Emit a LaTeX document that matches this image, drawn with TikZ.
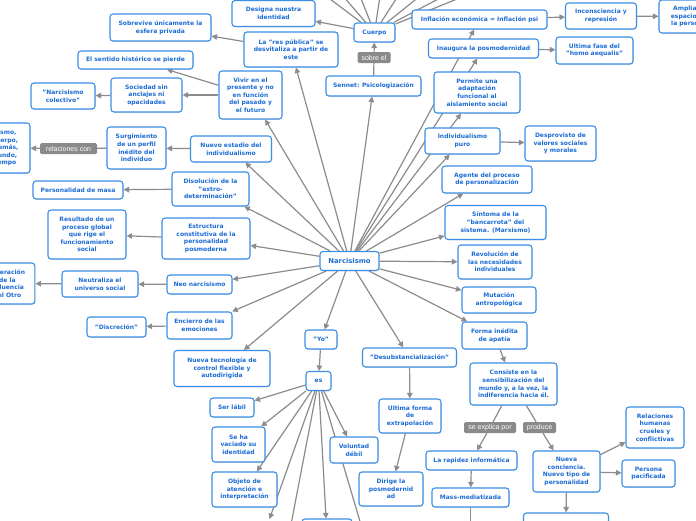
\documentclass[tikz,border=0pt]{standalone}
\usepackage{fontspec}
\setmainfont{DejaVu Sans}
\newfontfamily\labfont{Liberation Sans}
\usetikzlibrary{arrows.meta,shadows}
\pgfdeclarelayer{bg}
\pgfsetlayers{bg,main}
\definecolor{bcol}{RGB}{58,142,230}
\definecolor{tcol}{RGB}{28,108,214}
\definecolor{lcol}{RGB}{140,140,140}
\definecolor{gcol}{RGB}{138,138,138}
\tikzset{
 box/.style={draw=bcol, line width=1.1pt, rounded corners=3pt, fill=white, text=tcol, align=center, inner sep=1pt,
   font=\fontsize{6}{7.6}\selectfont\bfseries,
   drop shadow={shadow xshift=0.5pt, shadow yshift=-0.8pt, opacity=0.22}},
 lab/.style={fill=gcol, text=white, rounded corners=1.5pt, inner sep=1pt, font=\labfont\fontsize{7}{8}\selectfont},
 conn/.style={draw=lcol, line width=1.2pt},
 arr/.style={conn, -{Triangle[width=5.5pt,length=5.5pt]}},
}
\begin{document}
\begin{tikzpicture}[x=1pt,y=-1pt]
\useasboundingbox (0,0) rectangle (696,520);
\clip (0,0) rectangle (696,520);
% nodes
\node[box, minimum width=59pt, minimum height=19pt, font=\fontsize{6.8}{8}\selectfont\bfseries] (narc) at (349.5,261) {Narcisismo};
\node[box, minimum width=41pt, minimum height=19pt] (cuerpo) at (374.5,32.5) {Cuerpo};
\node[lab, minimum width=33pt, minimum height=11pt] (sobre) at (374,57.5) {sobre el};
\node[box, minimum width=95pt, minimum height=20pt] (sennet) at (373.5,86) {Sennet: Psicologización};
\node[box, minimum width=83pt, minimum height=26pt] (designa) at (273.5,13.5) {Designa nuestra\\identidad};
\node[box, minimum width=94pt, minimum height=35pt] (respub) at (291,49.5) {La "res pública" se\\desvitaliza a partir de\\este};
\node[box, minimum width=101pt, minimum height=27pt] (sobrev) at (160.5,27.5) {Sobrevive únicamente la\\esfera privada};
\node[box, minimum width=115pt, minimum height=18pt] (sentido) at (135.5,60) {El sentido histórico se pierde};
\node[box, minimum width=63pt, minimum height=48pt] (vivir) at (250.5,95) {Vivir en el\\presente y no\\en función\\del pasado y\\el futuro};
\node[box, minimum width=71pt, minimum height=34pt] (sociedad) at (146.5,95) {Sociedad sin\\anclajes ni\\opacidades};
\node[box, minimum width=64pt, minimum height=26pt] (narcol) at (63,96) {"Narcisismo\\colectivo"};
\node[box, minimum width=59pt, minimum height=42pt] (surg) at (136.5,148) {Surgimiento\\de un perfil\\inédito del\\individuo};
\node[lab, minimum width=57pt, minimum height=11pt] (relcon) at (68.5,148.5) {relaciones con};
\node[box, minimum width=59.4pt, minimum height=50pt] (part1) at (0.3,148) {sí mismo,\\su cuerpo,\\los demás,\\el mundo,\\el tiempo};
\node[box, minimum width=81pt, minimum height=26pt] (nuevoest) at (231,149) {Nuevo estadio del\\individualismo};
\node[box, minimum width=90pt, minimum height=18pt] (persmasa) at (78,190) {Personalidad de masa};
\node[box, minimum width=77pt, minimum height=34pt] (disol) at (210.5,189) {Disolución de la\\"extro-\\determinación"};
\node[box, minimum width=78pt, minimum height=49pt] (result) at (87,234.5) {Resultado de un\\proceso global\\que rige el\\funcionamiento\\social};
\node[box, minimum width=88pt, minimum height=41pt] (estruct) at (206,238.5) {Estructura\\constitutiva de la\\personalidad\\posmoderna};
\node[box, minimum width=65pt, minimum height=19pt] (neo) at (199.5,284.5) {Neo narcisismo};
\node[box, minimum width=76pt, minimum height=26pt] (neutr) at (100,284) {Neutraliza el\\universo social};
\node[box, minimum width=55pt, minimum height=41pt] (part2) at (7.4,283.5) {Liberación\\de la\\influencia\\del Otro};
\node[box, minimum width=65pt, minimum height=27pt] (encierro) at (199.5,325.5) {Encierro de las\\emociones};
\node[box, minimum width=59pt, minimum height=20pt] (discr) at (116.5,327) {"Discreción"};
\node[box, minimum width=96pt, minimum height=36pt] (nuevatec) at (222,368.5) {Nueva tecnología de\\control flexible y\\autodirigida};
\node[box, minimum width=32pt, minimum height=19pt] (yo) at (321,339.5) {"Yo"};
\node[box, minimum width=25pt, minimum height=19pt] (es) at (318.5,381) {es};
\node[box, minimum width=44pt, minimum height=19pt] (serlabil) at (232,407.5) {Ser lábil};
\node[box, minimum width=53pt, minimum height=35pt] (vaciado) at (238.5,444.5) {Se ha\\vaciado su\\identidad};
\node[box, minimum width=65pt, minimum height=35pt] (objeto) at (244.5,489.5) {Objeto de\\atención e\\interpretación};
\node[box, minimum width=48pt, minimum height=26pt] (voluntad) at (354,450) {Voluntad\\débil};
\node[box, minimum width=50pt, minimum height=34pt] (bbox1) at (327,536) {};
\node[box, minimum width=94pt, minimum height=19pt] (desub) at (409.5,357.5) {"Desubstancialización"};
\node[box, minimum width=62pt, minimum height=34pt] (ultforma) at (410,416) {Ultima forma\\de\\extrapolación};
\node[box, minimum width=64pt, minimum height=34pt] (dirige) at (391,489) {Dirige la\\posmodernid\\ad};
\node[box, minimum width=135pt, minimum height=19pt] (inflac) at (479.5,19.5) {Inflación económica = Inflación psi};
\node[box, minimum width=71pt, minimum height=26pt] (incons) at (601,16) {Inconsciencia y\\represión};
\node[box, minimum width=60pt, minimum height=33pt] (amplia) at (689,16.5) {Amplia el\\espacio de\\la persona};
\node[box, minimum width=110pt, minimum height=19pt] (inaug) at (483.5,48.5) {Inaugura la posmodernidad};
\node[box, minimum width=77pt, minimum height=27pt] (ultfase) at (594.5,50.5) {Ultima fase del\\"homo aequalis"};
\node[box, minimum width=86pt, minimum height=41pt] (permite) at (477,92.5) {Permite una\\adaptación\\funcional al\\aislamiento social};
\node[box, minimum width=75pt, minimum height=26pt] (indiv) at (462.5,141) {Individualismo\\puro};
\node[box, minimum width=71pt, minimum height=35pt] (desprov) at (560.5,143.5) {Desprovisto de\\valores sociales\\y morales};
\node[box, minimum width=90pt, minimum height=27pt] (agente) at (487,179.5) {Agente del proceso\\de personalización};
\node[box, minimum width=101pt, minimum height=34pt] (sintoma) at (495.5,222.5) {Síntoma de la\\"bancarrota" del\\sistema. (Marxismo)};
\node[box, minimum width=74pt, minimum height=34pt] (revol) at (495,262) {Revolución de\\las necesidades\\individuales};
\node[box, minimum width=74pt, minimum height=26pt] (mutac) at (499,300) {Mutación\\antropológica};
\node[box, minimum width=65pt, minimum height=27pt] (formaine) at (494.5,335.5) {Forma inédita\\de apatía};
\node[box, minimum width=87pt, minimum height=42pt] (consiste) at (513.5,384) {Consiste en la\\sensibilización del\\mundo y, a la vez, la\\indiferencia hacia él.};
\node[lab, minimum width=52pt, minimum height=11pt] (sexp) at (490,427.5) {se explica por};
\node[lab, minimum width=33pt, minimum height=11pt] (prod) at (539.5,427.5) {produce};
\node[box, minimum width=91pt, minimum height=19pt] (rapidez) at (471.5,460.5) {La rapidez informática};
\node[box, minimum width=77pt, minimum height=19pt] (massmed) at (470.5,497.5) {Mass-mediatizada};
\node[box, minimum width=67pt, minimum height=41pt] (nuevacon) at (566.5,471.5) {Nueva\\conciencia.\\Nuevo tipo de\\personalidad};
\node[box, minimum width=58pt, minimum height=41pt] (relhum) at (655,427.5) {Relaciones\\humanas\\crueles y\\conflictivas};
\node[box, minimum width=53pt, minimum height=27pt] (persona) at (648.5,473.5) {Persona\\pacificada};
\node[box, minimum width=85pt, minimum height=34pt] (bbox2) at (566,530) {};
% free ends
\coordinate (c1) at (326,-4);
\coordinate (c2) at (343,-4);
\coordinate (c3) at (360,-4);
\coordinate (c4) at (380,-4);
\coordinate (c5) at (398,-4);
\coordinate (c6) at (420,-4);
\coordinate (c7) at (444,-4);
\coordinate (c8) at (462,-3);
\coordinate (b1) at (269.5,519);
\coordinate (b2) at (289,535);
\coordinate (b3) at (364,535);
\coordinate (b4) at (470.5,530);
\begin{pgfonlayer}{bg}
\clip (0,0) rectangle (696,520);
\fill[white] (0,0) rectangle (696,520);
\foreach \t in {vivir,respub,sennet,nuevoest,disol,estruct,neo,encierro,nuevatec,yo,desub,formaine,mutac,revol,sintoma,agente,indiv,permite,inaug,inflac}
  \draw[arr] (narc) -- (\t);
\draw[conn] (sennet) -- (sobre);
\draw[arr] (sobre) -- (cuerpo);
\draw[arr] (cuerpo) -- (designa);
\foreach \c in {c1,c2,c3,c4,c5,c6,c7,c8}
  \draw[conn] (cuerpo) -- (\c);
\draw[arr] (respub) -- (sobrev);
\draw[arr] (vivir) -- (sentido);
\draw[arr] (vivir) -- (sociedad);
\draw[arr] (sociedad) -- (narcol);
\draw[arr] (nuevoest) -- (surg);
\draw[conn] (surg) -- (relcon);
\draw[arr] (relcon) -- (part1);
\draw[arr] (disol) -- (persmasa);
\draw[arr] (estruct) -- (result);
\draw[arr] (neo) -- (neutr);
\draw[arr] (neutr) -- (part2);
\draw[arr] (encierro) -- (discr);
\draw[arr] (yo) -- (es);
\foreach \t in {serlabil,vaciado,objeto,voluntad,bbox1}
  \draw[arr] (es) -- (\t);
\draw[arr] (es) -- (b1);
\draw[conn] (es) -- (b2);
\draw[conn] (es) -- (b3);
\draw[arr] (desub) -- (ultforma);
\draw[arr] (ultforma) -- (dirige);
\draw[arr] (inflac) -- (incons);
\draw[arr] (incons) -- (amplia);
\draw[arr] (inaug) -- (ultfase);
\draw[arr] (indiv) -- (desprov);
\draw[arr] (formaine) -- (consiste);
\draw[conn] (consiste) -- (sexp);
\draw[arr] (sexp) -- (rapidez);
\draw[conn] (consiste) -- (prod);
\draw[arr] (prod) -- (nuevacon);
\draw[arr] (rapidez) -- (massmed);
\draw[conn] (massmed) -- (b4);
\draw[arr] (nuevacon) -- (relhum);
\draw[arr] (nuevacon) -- (persona);
\draw[arr] (nuevacon) -- (bbox2);
\end{pgfonlayer}
\end{tikzpicture}
\end{document}
